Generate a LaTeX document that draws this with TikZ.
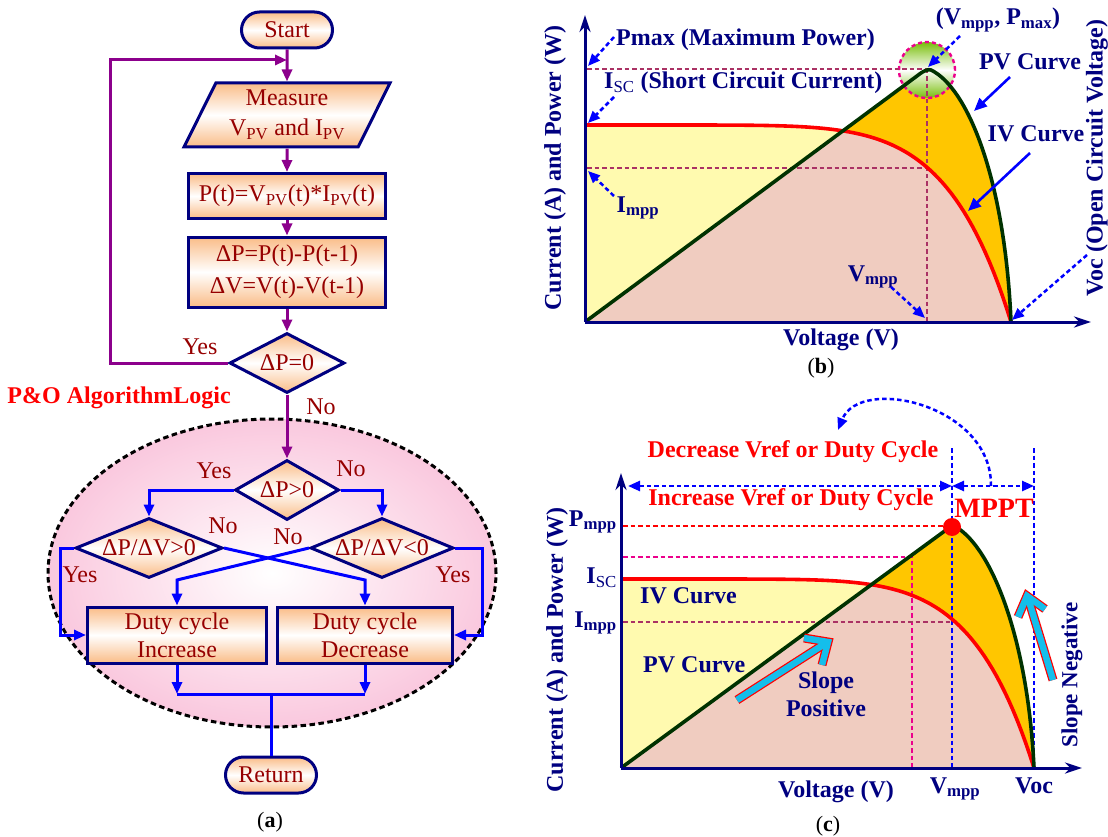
\documentclass[tikz,border=0pt]{standalone}
\usepackage{fontspec}
\setmainfont{Liberation Serif}
\usetikzlibrary{shapes.geometric,shapes.misc,arrows.meta,shadings}
\newcommand\fsz[2]{\fontsize{#1}{#2}\selectfont}
\definecolor{navy}{RGB}{0,0,128}
\definecolor{dred}{RGB}{150,0,0}
\definecolor{purp}{RGB}{140,0,140}
\definecolor{pvgreen}{RGB}{0,50,0}
\definecolor{fyellow}{RGB}{255,250,175}
\definecolor{fpink}{RGB}{240,204,192}
\definecolor{forange}{RGB}{255,198,0}
\definecolor{peach}{RGB}{250,188,135}
\definecolor{ellpink}{RGB}{250,200,222}
\definecolor{maroonA}{RGB}{170,50,100}
\definecolor{cyanA}{RGB}{20,190,235}
\definecolor{lgreen}{RGB}{120,190,10}
\begin{document}
\begin{tikzpicture}[x=1pt,y=-1pt,
  fbox/.style={draw=navy, line width=3pt, top color=peach, bottom color=peach, middle color=white, text=dred, font=\fsz{24}{30}, align=center, inner sep=1pt},
  term/.style={fbox, rounded rectangle, minimum width=93pt, minimum height=36pt},
  io/.style={fbox, trapezium, trapezium left angle=63, trapezium right angle=117, trapezium stretches=true, minimum width=206pt, minimum height=64pt},
  proc/.style={fbox, rectangle},
  dec/.style={fbox, diamond, minimum height=60pt},
  lbl/.style={text=dred, font=\fsz{24}{26}, inner sep=0pt},
  parrow/.style={purp, line width=3pt, -{Triangle[length=12pt,width=10pt]}},
  barrow/.style={blue, line width=3pt, -{Triangle[length=12pt,width=10pt]}},
  bline/.style={blue, line width=3pt},
  axis/.style={navy, line width=3pt, -{Stealth[length=17pt,width=11pt]}},
  plbl/.style={text=navy, font=\bfseries\fsz{24}{28}, inner sep=0pt},
  rlbl/.style={text=red, font=\bfseries\fsz{24}{26}, inner sep=0pt},
  dsharrow/.style={blue, line width=2.5pt, dash pattern=on 4.5pt off 3pt, -{Triangle[length=12pt,width=10pt]}},
  dshboth/.style={blue, line width=2.5pt, dash pattern=on 4.5pt off 3pt, {Triangle[length=12pt,width=10pt]}-{Triangle[length=12pt,width=10pt]}},
  sarrow/.style={blue, line width=2.6pt, -{Triangle[length=13pt,width=11pt]}},
  mdash/.style={maroonA, line width=2.2pt, dash pattern=on 4.5pt off 3pt},
  bdash/.style={blue, line width=2.4pt, dash pattern=on 4.5pt off 3pt},
  ivc/.style={red, line width=3.6pt, line join=round},
  pvc/.style={pvgreen, line width=3.6pt, line join=round},
  cout/.style={red, line width=9pt, line join=miter},
  cin/.style={cyanA, line width=6.5pt, line join=miter},
  captxt/.style={font=\fsz{22}{24}, inner sep=0pt}
]
\useasboundingbox (0,0) rectangle (1108,837);

%================ (a) flowchart ================
\shade[inner color=white, outer color=ellpink] (272,573) ellipse [x radius=224pt, y radius=154pt];
\draw[black, line width=3pt, dash pattern=on 5.5pt off 3.5pt] (272,573) ellipse [x radius=224pt, y radius=154pt];

\node[term] (start) at (287,30) {Start};
\node[io] (meas) at (287,115) {Measure\\V\textsubscript{PV} and I\textsubscript{PV}};
\node[proc, minimum width=197pt, minimum height=45pt] (pt) at (287,196) {P(t)=V\textsubscript{PV}(t)*I\textsubscript{PV}(t)};
\node[proc, minimum width=197pt, minimum height=70pt, font=\fsz{24}{32}] (dp) at (287,272) {ΔP=P(t)-P(t-1)\\ΔV=V(t)-V(t-1)};
\node[dec, minimum width=115pt] (d1) at (287,363) {\makebox[0pt]{ΔP=0}};
\node[dec, minimum width=104pt] (d2) at (287,490) {\makebox[0pt]{ΔP>0}};
\node[dec, minimum width=147pt] (d3) at (149,548) {\makebox[0pt]{ΔP/ΔV>0}};
\node[dec, minimum width=143pt] (d4) at (382,548) {\makebox[0pt]{ΔP/ΔV<0}};
\node[proc, minimum width=179pt, minimum height=56pt, font=\fsz{24}{28}] (inc) at (177,635) {Duty cycle\\Increase};
\node[proc, minimum width=175pt, minimum height=56pt, font=\fsz{24}{28}] (decb) at (365,635) {Duty cycle\\Decrease};
\node[term] (ret) at (271,775) {Return};

\coordinate (j) at (287,60);
\coordinate (lp) at (110,363);
\coordinate (cl) at (60,548);
\coordinate (cr) at (482,548);
\coordinate (ycross) at (0,580);
\coordinate (ybot) at (0,694);
\coordinate (jb) at (271,694);

\draw[parrow] (start.south) -- (meas.north);
\draw[parrow] (meas.south) -- (pt.north);
\draw[parrow] (pt.south) -- (dp.north);
\draw[parrow] (dp.south) -- (d1.north);
\draw[parrow] (d1.west) -- (lp) |- (j);
\draw[parrow] (d1.south) -- (d2.north);

\draw[barrow] (d2.west) -| (d3.north);
\draw[barrow] (d2.east) -| (d4.north);
\draw[barrow] (d3.west) -- (cl) |- (inc.west);
\draw[barrow] (d4.east) -- (cr) |- (decb.east);
\draw[barrow] (d3.east) -- (decb.north |- ycross) -- (decb.north);
\draw[barrow] (d4.west) -- (inc.north |- ycross) -- (inc.north);
\draw[barrow] (inc.south) -- (inc.south |- ybot);
\draw[barrow] (decb.south) -- (decb.south |- ybot);
\draw[bline] (inc.south |- ybot) -- (decb.south |- ybot);
\draw[bline] (jb) -- (ret.north);

\node[lbl] at (200,347) {Yes};
\node[lbl] at (321,407) {No};
\node[lbl] at (214,471) {Yes};
\node[lbl] at (351,469) {No};
\node[lbl] at (223,526) {No};
\node[lbl] at (288,537) {No};
\node[lbl] at (80,575) {Yes};
\node[lbl] at (453,575) {Yes};
\node[rlbl, anchor=east, font=\bfseries\fsz{24}{26}] at (231,398) {P\&O AlgorithmLogic};
\node[captxt] at (270,822) {(\textbf{a})};

%================ (b) ================
\fill[fyellow] (585,322) -- (585,125) -- plot[domain=0.01:1,samples=100] ({585+426*\x},{322-197*(1-(\x)^7)}) -- cycle;
\fill[forange] (585,322) -- (921,73) .. controls (924,71) and (928,69) .. (931,70) .. controls (968,88) and (1005,180) .. (1011,322) -- cycle;
\begin{scope}
\clip (585,322) -- (585,125) -- plot[domain=0.01:1,samples=100] ({585+426*\x},{322-197*(1-(\x)^7)}) -- cycle;
\fill[fpink] (585,322) -- (921,73) .. controls (924,71) and (928,69) .. (931,70) .. controls (968,88) and (1005,180) .. (1011,322) -- cycle;
\end{scope}
\draw[magenta, line width=2.4pt, dash pattern=on 4pt off 3pt, top color=lgreen, bottom color=lgreen, middle color=white] (927,70) circle (28pt);
\draw[mdash] (587,69) -- (927,69);
\draw[mdash] (587,168) -- (927,168);
\draw[mdash] (927,69) -- (927,322);
\draw[ivc] (585,125) -- plot[domain=0.01:1,samples=100] ({585+426*\x},{322-197*(1-(\x)^7)});
\draw[pvc] (585,322) -- (921,73) .. controls (924,71) and (928,69) .. (931,70) .. controls (968,88) and (1005,180) .. (1011,322);
\draw[axis] (585,322) -- (585,15);
\draw[axis] (585,322) -- (1091,322);

\node[plbl, anchor=west] (pmaxl) at (616,40) {Pmax (Maximum Power)};
\node[plbl, anchor=west] (iscl) at (604,83) {I\textsubscript{\mdseries SC} (Short Circuit Current)};
\node[plbl] (imppl) at (638,208) {I\textsubscript{mpp}};
\node[plbl] (vpl) at (998,20) {(V\textsubscript{mpp}, P\textsubscript{max})};
\node[plbl] (pvl) at (1030,62) {PV Curve};
\node[plbl] (ivl) at (1036,134) {IV Curve};
\node[plbl] (vmppl) at (873,277) {V\textsubscript{mpp}};
\node[plbl] (voltb) at (841,340) {Voltage (V)};
\node[plbl, rotate=90] (curb) at (555,168) {Current (A) and Power (W)};
\node[plbl, rotate=90] (vocb) at (1097,158) {Voc (Open Circuit Voltage)};
\node[captxt] at (821,368) {(\textbf{b})};

\draw[dsharrow] (614,37) -- (588,66);
\draw[dsharrow] (614,97) -- (588,123);
\draw[dsharrow] (614,196) -- (588,171);
\draw[dsharrow] (960,36) -- (928,67);
\draw[dsharrow] (891,287) -- (925,318);
\draw[dsharrow] (1087,255) -- (1012,320);
\draw[sarrow] (1010,77) -- (974,111);
\draw[sarrow] (1030,153) -- (968,211);

%================ (c) ================
\fill[fyellow] (621,768) -- (621,579) -- plot[domain=0.01:1,samples=100] ({621+413*\x},{768-189*(1-(\x)^7)}) -- cycle;
\fill[forange] (621,768) -- (946,530) .. controls (949,528) and (953,526) .. (956,527) .. controls (992,548) and (1028,640) .. (1034,768) -- cycle;
\begin{scope}
\clip (621,768) -- (621,579) -- plot[domain=0.01:1,samples=100] ({621+413*\x},{768-189*(1-(\x)^7)}) -- cycle;
\fill[fpink] (621,768) -- (946,530) .. controls (949,528) and (953,526) .. (956,527) .. controls (992,548) and (1028,640) .. (1034,768) -- cycle;
\end{scope}
\draw[red, line width=2.2pt, dash pattern=on 4.5pt off 3pt] (623,526) -- (952,526);
\draw[magenta, line width=2.2pt, dash pattern=on 4.5pt off 3pt] (623,557) -- (912,557) -- (912,768);
\draw[mdash] (623,622) -- (952,622);
\draw[bdash] (952,448) -- (952,768);
\draw[bdash] (1034,448) -- (1034,768);
\draw[ivc] (621,579) -- plot[domain=0.01:1,samples=100] ({621+413*\x},{768-189*(1-(\x)^7)});
\draw[pvc] (621,768) -- (946,530) .. controls (949,528) and (953,526) .. (956,527) .. controls (992,548) and (1028,640) .. (1034,768);
\fill[red] (952,527) circle (9pt);
\draw[axis] (621,768) -- (621,473);
\draw[axis] (621,768) -- (1082,768);
\draw[dshboth] (628,486) -- (952,486);
\draw[dshboth] (952,486) -- (1034,486);
\draw[dsharrow] (991,486) .. controls (992,405) and (860,375) .. (838,430);

% cyan arrows
\draw[cout, line cap=butt] (737,700) -- (826,643);
\draw[cout] (804,638) -- (828,642) -- (822,665);
\draw[cin, line cap=butt] (737,700) -- (826,643);
\draw[cin] (804,638) -- (828,642) -- (822,665);
\draw[cout, line cap=butt] (1053,680) -- (1028,598);
\draw[cout] (1018,617) -- (1027,596) -- (1045,609);
\draw[cin, line cap=butt] (1053,680) -- (1028,598);
\draw[cin] (1018,617) -- (1027,596) -- (1045,609);

\node[rlbl] (decl) at (793,452) {Decrease Vref or Duty Cycle};
\node[rlbl] (incl) at (791,500) {Increase Vref or Duty Cycle};
\node[rlbl, font=\bfseries\fsz{28}{30}] (mppt) at (994,508) {MPPT};
\node[plbl, anchor=east] (pmppl) at (617,522) {P\textsubscript{mpp}};
\node[plbl, anchor=east] (iscc) at (617,578) {I\textsubscript{\mdseries SC}};
\node[plbl, anchor=east] (imppc) at (617,623) {I\textsubscript{mpp}};
\node[plbl, anchor=west] (ivlc) at (640,596) {IV Curve};
\node[plbl, anchor=west] (pvlc) at (643,665) {PV Curve};
\node[plbl, align=center] (slp) at (826,694) {Slope\\Positive};
\node[plbl, rotate=90, font=\bfseries\fsz{23}{26}] (sln) at (1072,675) {Slope Negative};
\node[plbl] (vmppc) at (955,789) {V\textsubscript{mpp}};
\node[plbl] (vocc) at (1034,786) {Voc};
\node[plbl] (voltc) at (836,792) {Voltage (V)};
\node[plbl, rotate=90] (curc) at (557,650) {Current (A) and Power (W)};
\node[captxt] at (828,826) {(\textbf{c})};
\end{tikzpicture}
\end{document}
